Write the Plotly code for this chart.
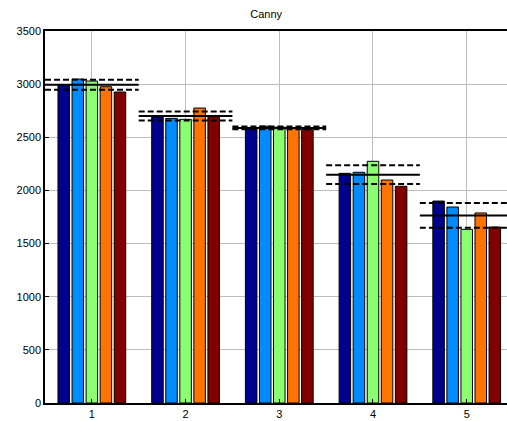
import numpy as np
import plotly.graph_objects as go

# Grouped results for the Canny detector: 5 test cases, 5 runs each
groups = [1, 2, 3, 4, 5]
run_a = [2995, 2691, 2580, 2161, 1900]
run_b = [3048, 2678, 2605, 2171, 1844]
run_c = [3029, 2669, 2595, 2274, 1634]
run_d = [2976, 2775, 2590, 2098, 1788]
run_e = [2926, 2694, 2572, 2039, 1656]

series = [run_a, run_b, run_c, run_d, run_e]
colors = ["#00008F", "#008CFF", "#8CFF70", "#FF7400", "#800000"]

fig = go.Figure()

for vals, col in zip(series, colors):
    fig.add_trace(go.Bar(
        x=groups, y=vals,
        marker=dict(color=col, line=dict(color="#000000", width=1)),
        showlegend=False,
    ))

# Mean and mean +/- std lines spanning each group
data = np.array(series)
means = data.mean(axis=0)
stds = data.std(axis=0, ddof=1)

def span_line(levels):
    xs, ys = [], []
    for g, lv in zip(groups, levels):
        xs += [g - 0.5, g + 0.5, None]
        ys += [lv, lv, None]
    return xs, ys

mx, my = span_line(means)
fig.add_trace(go.Scatter(x=mx, y=my, mode="lines",
                         line=dict(color="black", width=2),
                         showlegend=False, hoverinfo="skip"))
for sign in (1, -1):
    dx, dy = span_line(means + sign * stds)
    fig.add_trace(go.Scatter(x=dx, y=dy, mode="lines",
                             line=dict(color="black", width=2, dash="6px,3px"),
                             showlegend=False, hoverinfo="skip"))

fig.update_layout(
    width=507, height=421,
    margin=dict(l=45, r=0, t=31, b=18),
    paper_bgcolor="white", plot_bgcolor="white",
    barmode="group", bargap=0.25, bargroupgap=0.18,
    font=dict(family="Liberation Sans, Arial, sans-serif", size=11, color="black"),
    title=dict(text="Canny", x=0.525, xanchor="center", y=0.975, yanchor="top",
               font=dict(size=11)),
)
fig.update_xaxes(
    range=[0.5, 5.43], tickvals=groups, ticktext=[str(g) for g in groups],
    showgrid=True, gridcolor="#BDBDBD", gridwidth=1,
    showline=True, linecolor="black", linewidth=1.5, mirror=True,
    ticks="inside", ticklen=4, tickcolor="black", zeroline=False,
)
fig.update_yaxes(
    range=[0, 3500], tickvals=list(range(0, 3501, 500)),
    showgrid=True, gridcolor="#BDBDBD", gridwidth=1,
    showline=True, linecolor="black", linewidth=1.5, mirror=False,
    ticks="inside", ticklen=4, tickcolor="black", zeroline=False,
)

fig.write_html("out.html")
